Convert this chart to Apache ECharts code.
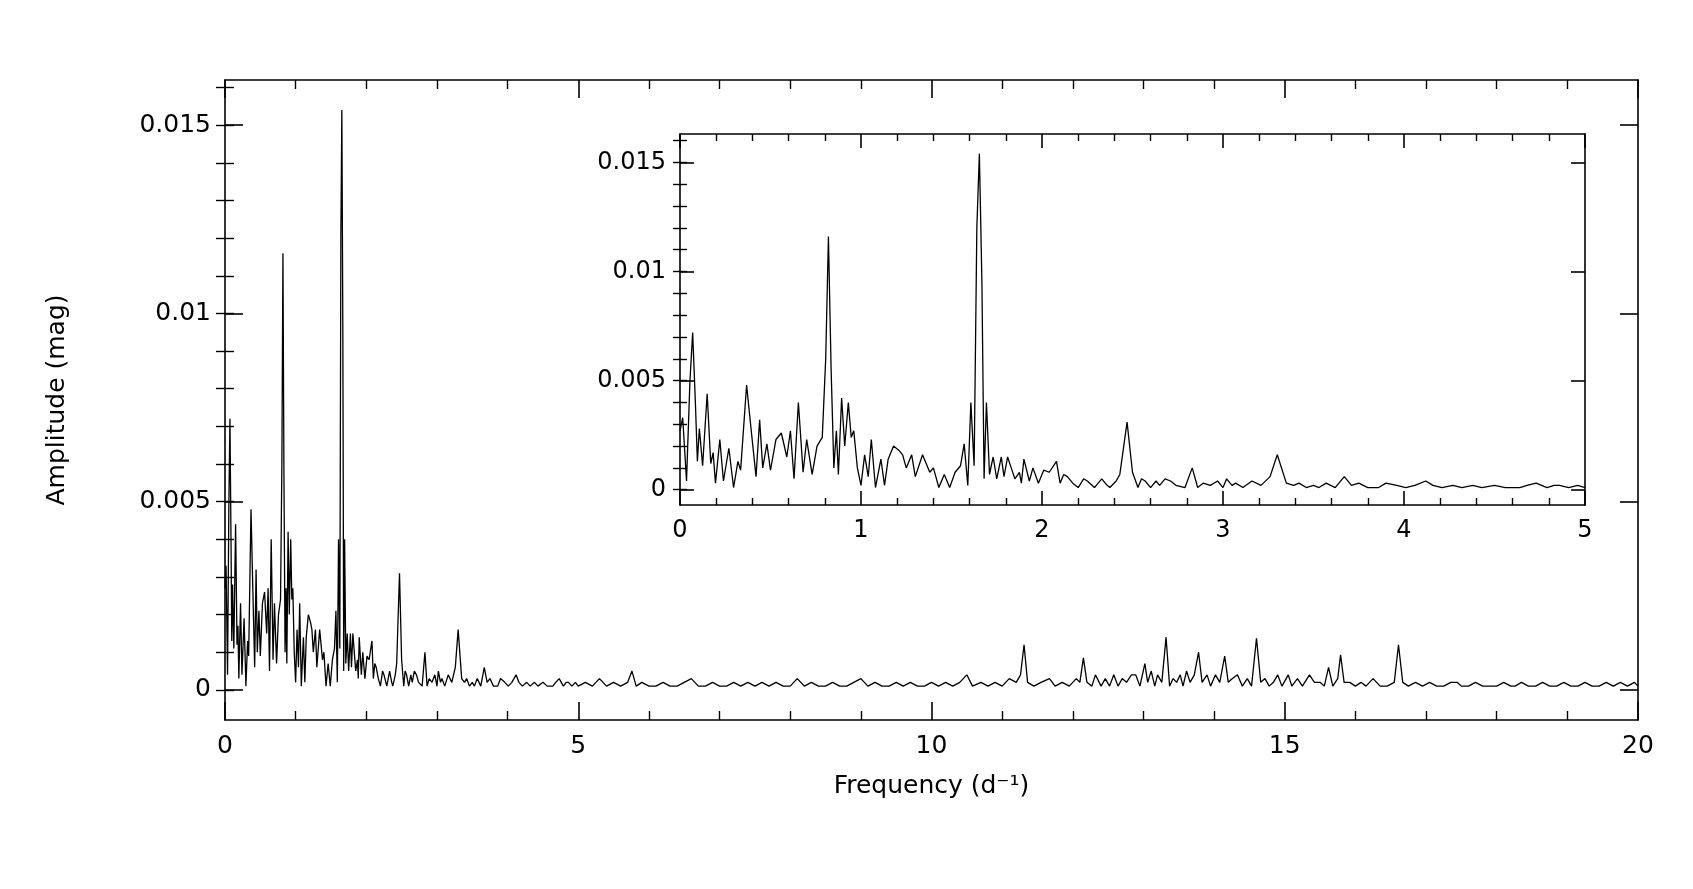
<!DOCTYPE html>
<html>
<head>
<meta charset="utf-8">
<script src="https://cdn.jsdelivr.net/npm/echarts@6/dist/echarts.min.js"></script>
<style>html,body{margin:0;background:#fff}#c{width:1693px;height:889px}</style>
</head>
<body>
<div id="c"></div>
<script>
// amplitude spectrum, [frequency (1/d), amplitude (mag)]
const lowFreq = [
  [0.0,0.0027],[0.015,0.0033],[0.036,0.0004],[0.055,0.0050],[0.07,0.0072],[0.085,0.0040],[0.096,0.0013],[0.107,0.0028],[0.125,0.0011],
  [0.15,0.0044],[0.17,0.0012],[0.183,0.0017],[0.196,0.0003],[0.22,0.0023],[0.24,0.0004],[0.27,0.0019],[0.296,0.0001],
  [0.32,0.0013],[0.335,0.0009],[0.368,0.0048],[0.39,0.0030],[0.42,0.0006],[0.44,0.0032],[0.457,0.0010],[0.48,0.0021],
  [0.50,0.0009],[0.53,0.0023],[0.56,0.0026],[0.59,0.0015],[0.61,0.0027],[0.63,0.0005],[0.654,0.0040],[0.68,0.0008],
  [0.70,0.0023],[0.73,0.0007],[0.757,0.0020],[0.786,0.0024],[0.805,0.0060],[0.82,0.0116],[0.835,0.0055],[0.85,0.0010],
  [0.864,0.0027],[0.875,0.0007],[0.893,0.0042],[0.91,0.0020],[0.93,0.0040],[0.946,0.0024],[0.96,0.0027],[0.98,0.0010],
  [1.0,0.0002],[1.02,0.0016],[1.04,0.0006],[1.057,0.0023],[1.08,0.0001],[1.11,0.0014],[1.13,0.0002],[1.15,0.0014],
  [1.18,0.0020],[1.21,0.0018],[1.23,0.0016],[1.25,0.0010],[1.28,0.0016],[1.30,0.0006],[1.34,0.0016],[1.36,0.0012],
  [1.38,0.0008],[1.40,0.0010],[1.43,0.0001],[1.46,0.0007],[1.49,0.0001],[1.52,0.0008],[1.55,0.0011],[1.57,0.0021],
  [1.59,0.0002],[1.607,0.0040],[1.625,0.0011],[1.64,0.0120],[1.654,0.0154],[1.668,0.0095],[1.68,0.0005],[1.693,0.0040],
  [1.71,0.0007],[1.73,0.0015],[1.75,0.0005],[1.775,0.0015],[1.79,0.0006],[1.81,0.0015],[1.83,0.0010],[1.85,0.0005],
  [1.875,0.0008],[1.886,0.0003],[1.90,0.0014],[1.93,0.0004],[1.95,0.0010],[1.98,0.0003],[2.01,0.0009],[2.04,0.0008],
  [2.08,0.0013],[2.10,0.0003],[2.12,0.0007],[2.14,0.0006],[2.17,0.0003],[2.20,0.0001],[2.23,0.0005],[2.25,0.0004],
  [2.29,0.0001],[2.33,0.0005],[2.36,0.0002],[2.375,0.0001],[2.41,0.0004],[2.43,0.0007],[2.47,0.0031],[2.50,0.0008],
  [2.53,0.0001],[2.55,0.0005],[2.57,0.0004],[2.60,0.0001],[2.63,0.0004],[2.65,0.0002],[2.68,0.0005],[2.71,0.0004],
  [2.74,0.0002],[2.79,0.0001],[2.83,0.0010],[2.86,0.0001],[2.89,0.0003],[2.93,0.0002],[2.97,0.0004],[3.0,0.0001],
  [3.02,0.0005],[3.05,0.0002],[3.07,0.0003],[3.11,0.0001],[3.16,0.0004],[3.21,0.0002],[3.26,0.0006],[3.30,0.0016],
  [3.35,0.0003],[3.39,0.0002],[3.42,0.0003],[3.46,0.0001],[3.50,0.0002],[3.53,0.0001],[3.57,0.0003],[3.62,0.0001],
  [3.67,0.0006],[3.71,0.0002],[3.75,0.0003],[3.80,0.0001],[3.86,0.0001],[3.90,0.0003],[3.96,0.0002],[4.01,0.0001],
  [4.06,0.0002],[4.12,0.0004],[4.16,0.0002],[4.21,0.0001],[4.27,0.0002],[4.32,0.0001],[4.38,0.0002],[4.43,0.0001],
  [4.50,0.0002],[4.56,0.0001],[4.64,0.0001],[4.68,0.0002],[4.73,0.0003],[4.79,0.0001],[4.83,0.0002],[4.86,0.0002],
  [4.91,0.0001],[4.96,0.0002],[5.0,0.0001]
];
const highFreq = [
  [5.1,0.0002],[5.2,0.0001],[5.3,0.0003],[5.4,0.0001],[5.5,0.0002],[5.6,0.0001],[5.7,0.0002],[5.76,0.0005],[5.82,0.0001],
  [5.9,0.0002],[6.0,0.0001],[6.1,0.0001],[6.2,0.0002],[6.3,0.0001],[6.4,0.0001],[6.5,0.0002],[6.6,0.0003],[6.7,0.0001],
  [6.8,0.0001],[6.9,0.0002],[7.0,0.0001],[7.1,0.0001],[7.2,0.0002],[7.3,0.0001],[7.4,0.0002],[7.5,0.0001],[7.6,0.0002],
  [7.7,0.0001],[7.8,0.0002],[7.9,0.0001],[8.0,0.0001],[8.1,0.0003],[8.2,0.0001],[8.3,0.0002],[8.4,0.0001],[8.5,0.0001],
  [8.6,0.0002],[8.7,0.0001],[8.8,0.0001],[9.0,0.0003],[9.1,0.0001],[9.2,0.0002],[9.3,0.0001],[9.4,0.0001],[9.5,0.0002],
  [9.6,0.0001],[9.7,0.0002],[9.8,0.0001],[9.9,0.0001],[10.0,0.0002],[10.1,0.0001],[10.2,0.0002],[10.3,0.0001],[10.4,0.0002],
  [10.5,0.0004],[10.58,0.0001],[10.7,0.0002],[10.8,0.0001],[10.9,0.0002],[11.0,0.0001],[11.1,0.0003],[11.2,0.0002],
  [11.26,0.0004],[11.31,0.0012],[11.36,0.0002],[11.45,0.0001],[11.55,0.0002],[11.67,0.0003],[11.75,0.0001],[11.85,0.0002],
  [11.95,0.0001],[12.05,0.0003],[12.1,0.0002],[12.15,0.00085],[12.2,0.0002],[12.27,0.0001],[12.32,0.0004],[12.4,0.0001],
  [12.46,0.0003],[12.52,0.0001],[12.58,0.0004],[12.64,0.0001],[12.7,0.0003],[12.76,0.0002],[12.83,0.0004],[12.89,0.0004],
  [12.95,0.0001],[13.02,0.0007],[13.06,0.0002],[13.11,0.0005],[13.16,0.0001],[13.2,0.0004],[13.26,0.0002],[13.32,0.0014],
  [13.37,0.0001],[13.42,0.0003],[13.47,0.0002],[13.52,0.0004],[13.56,0.0001],[13.61,0.0005],[13.66,0.0002],[13.72,0.0004],
  [13.78,0.0010],[13.83,0.0002],[13.9,0.0004],[13.95,0.0001],[14.02,0.0004],[14.08,0.0002],[14.15,0.0009],[14.2,0.0002],
  [14.26,0.0003],[14.33,0.0004],[14.4,0.0001],[14.47,0.0003],[14.53,0.0001],[14.6,0.00137],[14.66,0.0002],[14.72,0.0003],
  [14.78,0.0001],[14.84,0.0002],[14.9,0.0004],[14.96,0.0001],[15.05,0.0004],[15.1,0.0001],[15.18,0.0003],[15.25,0.0001],
  [15.35,0.0004],[15.42,0.0002],[15.5,0.0002],[15.56,0.0001],[15.62,0.0006],[15.68,0.0001],[15.75,0.0003],[15.79,0.00093],
  [15.84,0.0002],[15.92,0.0002],[16.0,0.0001],[16.08,0.0002],[16.15,0.0001],[16.25,0.0003],[16.35,0.0001],[16.45,0.0001],
  [16.55,0.0002],[16.61,0.0012],[16.67,0.0002],[16.75,0.0001],[16.85,0.0002],[16.95,0.0001],[17.05,0.0002],[17.15,0.0001],
  [17.25,0.0001],[17.35,0.0002],[17.44,0.0002],[17.5,0.0001],[17.6,0.0001],[17.7,0.0002],[17.8,0.0001],[17.9,0.0001],
  [18.0,0.0001],[18.1,0.0002],[18.2,0.0001],[18.26,0.0001],[18.35,0.0002],[18.45,0.0001],[18.55,0.0001],[18.65,0.0002],
  [18.75,0.0001],[18.85,0.0001],[18.95,0.0002],[19.05,0.0001],[19.15,0.0001],[19.25,0.0002],[19.35,0.0001],[19.45,0.0001],
  [19.55,0.0002],[19.65,0.0001],[19.75,0.0002],[19.85,0.0001],[19.95,0.0002],[20.0,0.0001]
];
const spectrum = lowFreq.concat(highFreq);
const yMajor = [0, 0.005, 0.01, 0.015];
const yMinor = [0, 0.001, 0.002, 0.003, 0.004, 0.005, 0.006, 0.007, 0.008, 0.009, 0.01, 0.011, 0.012, 0.013, 0.014, 0.015, 0.016];

const font = 'DejaVu Sans';
const line = { onZero: false, lineStyle: { color: '#000', width: 1.6 } };

function xAxes(grid, max, interval, tickLen, fontSize, name) {
  const common = { type: 'value', gridIndex: grid, min: 0, max: max, interval: interval, z: 10,
    axisLine: line, splitLine: { show: false },
    axisTick: { inside: true, length: tickLen, lineStyle: { color: '#000', width: 1.6 } },
    minorTick: { show: true, splitNumber: 5, length: tickLen / 2, lineStyle: { color: '#000', width: 1.4 } } };
  return [
    Object.assign({}, common, { position: 'bottom',
      axisLabel: { color: '#000', fontFamily: font, fontSize: fontSize, margin: 14 },
      name: name, nameLocation: 'middle', nameGap: 54,
      nameTextStyle: { color: '#000', fontFamily: font, fontSize: 25 } }),
    Object.assign({}, common, { position: 'top', axisLabel: { show: false } })
  ];
}

function yAxes(grid, min, max, tickLen, fontSize, name) {
  const out = [];
  ['left', 'right'].forEach(function (pos) {
    out.push({ type: 'value', gridIndex: grid, position: pos, min: min, max: max, z: 10,
      axisLine: line, splitLine: { show: false },
      axisTick: { inside: true, length: tickLen, customValues: yMajor, lineStyle: { color: '#000', width: 1.6 } },
      axisLabel: { show: pos === 'left', customValues: yMajor, color: '#000', fontFamily: font, fontSize: fontSize, margin: 14,
        formatter: function (v) { return String(v); } },
      name: pos === 'left' ? name : '', nameLocation: 'middle', nameGap: 155,
      nameTextStyle: { color: '#000', fontFamily: font, fontSize: 25 } });
    out.push({ type: 'value', gridIndex: grid, position: pos, min: min, max: max, z: 10,
      axisLine: { show: false }, splitLine: { show: false }, axisLabel: { show: false },
      axisTick: { inside: true, length: tickLen / 2, customValues: yMinor, lineStyle: { color: '#000', width: 1.4 } } });
  });
  return out;
}

const chart = echarts.init(document.getElementById('c'));
chart.setOption({
  backgroundColor: '#fff',
  animation: false,
  grid: [
    { left: 225, right: 55, top: 80, bottom: 169 },
    { left: 680, width: 905, top: 134, height: 371, show: true, backgroundColor: '#fff', borderWidth: 0, z: 5 }
  ],
  xAxis: xAxes(0, 20, 5, 18, 25, 'Frequency (d\u207B\u00B9)').concat(xAxes(1, 5, 1, 14, 24, '')),
  yAxis: yAxes(0, -0.0008, 0.0162, 18, 25, 'Amplitude (mag)').concat(yAxes(1, -0.0007, 0.0163, 14, 24, '')),
  series: [
    { type: 'line', xAxisIndex: 0, yAxisIndex: 0, data: spectrum, showSymbol: false,
      lineStyle: { color: '#000', width: 1.3 } },
    { type: 'line', xAxisIndex: 2, yAxisIndex: 4, data: lowFreq, showSymbol: false, z: 6,
      lineStyle: { color: '#000', width: 1.3 } }
  ]
});
</script>
</body>
</html>
